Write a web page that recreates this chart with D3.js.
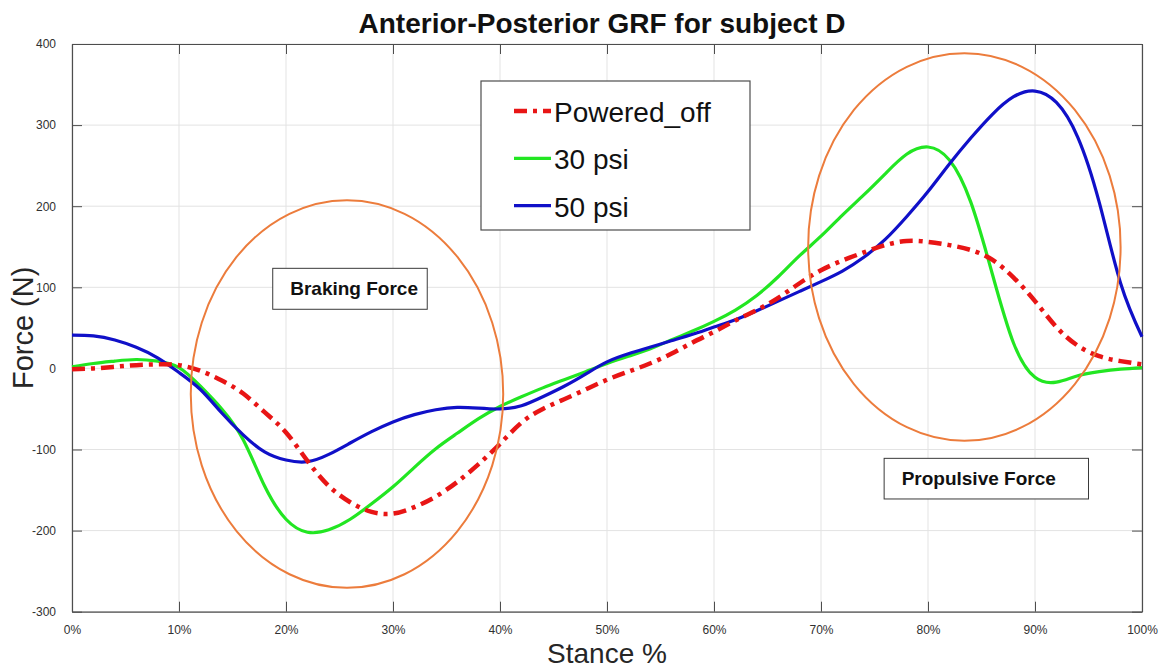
<!DOCTYPE html>
<html>
<head>
<meta charset="utf-8">
<script src="https://cdn.jsdelivr.net/npm/d3@7"></script>
<style>
  body { margin: 0; background: #fff; }
  svg { font-family: "Liberation Sans", Arial, sans-serif; }
</style>
</head>
<body>
<svg id="chart" width="1166" height="671"></svg>
<script>
// stance % sample points (shared by all three series)
var stance = [0,2,4,6,8,10,12,14,16,18,20,22,24,26,28,30,32,34,36,38,40,42,44,46,48,50,
  52,54,56,58,60,62,64,66,68,70,72,74,76,78,80,82,84,86,88,90,92,94,96,98,100];

var poweredOff = [-1,0,2,4,5,4,-3,-15,-31,-54,-79,-114,-145,-165,-177,-179,-171,-158,-140,-118,-93,-67,-50,-38,-26,-14,
  -4,6,18,32,45,59,72,87,105,121,133,143,152,157,156,152,146,134,112,83,51,28,15,9,5];

var psi30 = [2,6,9,11,9,1,-22,-50,-88,-145,-186,-202,-199,-186,-167,-146,-122,-99,-80,-62,-47,-35,-24,-14,-4,6,
  15,24,35,46,58,72,90,113,139,163,189,214,240,264,273,257,205,117,31,-11,-17,-9,-4,-1,1];

var psi50 = [41,40,35,26,13,-5,-26,-55,-82,-103,-113,-115,-106,-92,-78,-66,-57,-51,-48,-49,-50,-46,-35,-22,-7,8,
  18,26,34,42,51,60,71,83,95,107,120,137,159,187,218,252,284,313,335,342,328,285,205,105,39];

var seriesNames = ["Powered_off", "30 psi", "50 psi"];
var seriesColors = ["#e81515", "#22e622", "#1010c8"];
var seriesDash = ["13,6,4,6", null, null];

var yTicks = [-300,-200,-100,0,100,200,300,400];
var xTicks = [0,10,20,30,40,50,60,70,80,90,100];

// annotation ellipses in data units: [cx, cy, rx, ry]
var ellipses = [[25.7, -31.6, 14.6, 239], [83.4, 149.7, 14.6, 239]];
// annotation boxes in data units: [x0, x1, yTop, yBottom, label]
var boxes = [[18.76, 33.2, 123.4, 72.9, "Braking Force"], [75.9, 95.0, -110.9, -161, "Propulsive Force"]];

var margin = {top: 44, right: 24, bottom: 59.3, left: 72};
var width = 1166 - margin.left - margin.right,
    height = 671 - margin.top - margin.bottom;

var svg = d3.select("#chart");
var g = svg.append("g").attr("transform", "translate(" + margin.left + "," + margin.top + ")");

var x = d3.scaleLinear().domain([0, 100]).range([0, width]);
var y = d3.scaleLinear().domain([-300, 400]).range([height, 0]);

// grid
g.append("g").selectAll("line.gx")
  .data(xTicks).enter().append("line")
    .attr("x1", function(d) { return x(d); }).attr("x2", function(d) { return x(d); })
    .attr("y1", 0).attr("y2", height)
    .attr("stroke", "#e3e3e3").attr("stroke-width", 1);
g.append("g").selectAll("line.gy")
  .data(yTicks).enter().append("line")
    .attr("y1", function(d) { return y(d); }).attr("y2", function(d) { return y(d); })
    .attr("x1", 0).attr("x2", width)
    .attr("stroke", "#e3e3e3").attr("stroke-width", 1);

// axes (ticks pointing inward, box on)
var axisColor = "#4d4d4d";
var xb = g.append("g").attr("transform", "translate(0," + height + ")")
  .call(d3.axisBottom(x).tickValues(xTicks).tickSizeInner(-10).tickSizeOuter(0).tickPadding(14)
    .tickFormat(function(d) { return d + "%"; }));
var yl = g.append("g")
  .call(d3.axisLeft(y).tickValues(yTicks).tickSizeInner(-10).tickSizeOuter(0).tickPadding(16)
    .tickFormat(function(d) { return String(d); }));
var xt = g.append("g")
  .call(d3.axisTop(x).tickValues(xTicks).tickSizeInner(-10).tickSizeOuter(0).tickFormat(""));
var yr = g.append("g").attr("transform", "translate(" + width + ",0)")
  .call(d3.axisRight(y).tickValues(yTicks).tickSizeInner(-10).tickSizeOuter(0).tickFormat(""));

[xb, yl, xt, yr].forEach(function(a) {
  a.select(".domain").attr("stroke", axisColor).attr("stroke-width", 1.2);
  a.selectAll(".tick line").attr("stroke", axisColor);
  a.selectAll(".tick text").attr("fill", "#303030").style("font-size", "12px")
    .style("font-family", "'Liberation Sans', Arial, sans-serif");
});

// curves
var line = d3.line()
  .x(function(d) { return x(d[0]); })
  .y(function(d) { return y(d[1]); })
  .curve(d3.curveNatural);

var allSeries = [poweredOff, psi30, psi50];
// draw order: green, blue, red on top
[1, 2, 0].forEach(function(i) {
  g.append("path")
    .datum(stance.map(function(s, k) { return [s, allSeries[i][k]]; }))
    .attr("fill", "none")
    .attr("stroke", seriesColors[i])
    .attr("stroke-width", i == 0 ? 4.5 : 3.2)
    .attr("stroke-dasharray", seriesDash[i])
    .attr("d", line);
});

// orange ellipses
g.selectAll("ellipse.note")
  .data(ellipses).enter().append("ellipse")
    .attr("cx", function(d) { return x(d[0]); })
    .attr("cy", function(d) { return y(d[1]); })
    .attr("rx", function(d) { return x(d[2]) - x(0); })
    .attr("ry", function(d) { return y(0) - y(d[3]); })
    .attr("fill", "none")
    .attr("stroke", "#ec7c3c")
    .attr("stroke-width", 2);

// annotation boxes
var note = g.selectAll("g.box").data(boxes).enter().append("g");
note.append("rect")
  .attr("x", function(d) { return x(d[0]); })
  .attr("y", function(d) { return y(d[2]); })
  .attr("width", function(d) { return x(d[1]) - x(d[0]); })
  .attr("height", function(d) { return y(d[3]) - y(d[2]); })
  .attr("fill", "#fff")
  .attr("stroke", "#3a3a3a")
  .attr("stroke-width", 1);
note.append("text")
  .attr("x", function(d) { return x(d[0]) + 17.5; })
  .attr("y", function(d) { return (y(d[2]) + y(d[3])) / 2 + 6.5; })
  .style("font-size", "19px")
  .style("font-weight", "bold")
  .attr("fill", "#111")
  .text(function(d) { return d[4]; });

// legend
var legend = svg.append("g").attr("transform", "translate(481,81)");
legend.append("rect")
  .attr("width", 269).attr("height", 149)
  .attr("fill", "#fff").attr("stroke", "#4d4d4d").attr("stroke-width", 1.2);
var item = legend.selectAll("g.item")
  .data(seriesNames).enter().append("g")
    .attr("transform", function(d, i) { return "translate(0," + (30 + i * 47.3) + ")"; });
item.append("line")
  .attr("x1", 33).attr("x2", 70)
  .attr("stroke", function(d, i) { return seriesColors[i]; })
  .attr("stroke-width", function(d, i) { return i == 0 ? 4.5 : 3.2; })
  .attr("stroke-dasharray", function(d, i) { return seriesDash[i]; });
item.append("text")
  .attr("x", 73).attr("y", 11)
  .style("font-size", "28px")
  .attr("fill", "#111")
  .text(function(d) { return d; });

// titles
svg.append("text")
  .attr("x", 602).attr("y", 33)
  .attr("text-anchor", "middle")
  .style("font-size", "28px").style("font-weight", "bold")
  .attr("fill", "#111")
  .text("Anterior-Posterior GRF for subject D");

svg.append("text")
  .attr("x", margin.left + width / 2).attr("y", 663)
  .attr("text-anchor", "middle")
  .style("font-size", "28px")
  .attr("fill", "#262626")
  .text("Stance %");

svg.append("text")
  .attr("transform", "translate(33," + (margin.top + height / 2) + ") rotate(-90)")
  .attr("text-anchor", "middle")
  .style("font-size", "29px")
  .attr("fill", "#262626")
  .text("Force (N)");
</script>
</body>
</html>
